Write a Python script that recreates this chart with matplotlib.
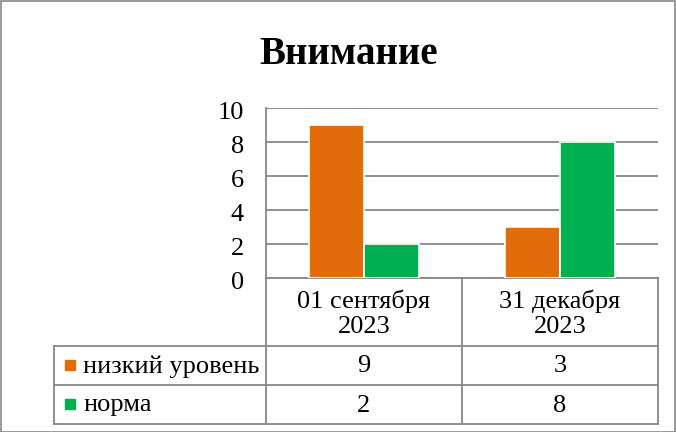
import matplotlib
matplotlib.use("Agg")
import matplotlib.pyplot as plt
import matplotlib.transforms as mtransforms
from matplotlib.patches import Rectangle
from matplotlib.lines import Line2D

categories = ["01 сентября\n2023", "31 декабря\n2023"]
series_names = ["низкий уровень", "норма"]
low_values = [9, 3]
norm_values = [2, 8]
colors = ["#E36C0A", "#00B050"]
yticks = [0, 2, 4, 6, 8, 10]
title = "Внимание"

plt.rcParams['font.family'] = ['Liberation Serif', 'DejaVu Serif']

W, H = 676, 432
fig = plt.figure(figsize=(W / 100, H / 100), dpi=100)

L, R, T, B = 266, 658, 108, 278
ax = fig.add_axes([L / W, 1 - B / H, (R - L) / W, (B - T) / H])

FS = 19

x = list(range(len(categories)))
bw = 0.28
ax.bar([xi - bw / 2 for xi in x], low_values, width=bw, color=colors[0],
       edgecolor="white", linewidth=1.2, zorder=3)
ax.bar([xi + bw / 2 for xi in x], norm_values, width=bw, color=colors[1],
       edgecolor="white", linewidth=1.2, zorder=3)

ax.set_xlim(-0.5, len(categories) - 0.5)
ax.set_ylim(0, 10)
ax.set_yticks(yticks)
ax.set_yticklabels([str(v) for v in yticks], fontsize=FS)
ax.tick_params(axis='y', length=0, pad=16)
ax.tick_params(axis='x', length=0, labelbottom=False)
off = mtransforms.ScaledTranslation(0, -2.5 / 100, fig.dpi_scale_trans)
for lbl in ax.get_yticklabels():
    lbl.set_transform(lbl.get_transform() + off)
ax.grid(axis='y', color="#888888", linewidth=1.3, zorder=0)
for s in ["top", "right", "bottom"]:
    ax.spines[s].set_visible(False)
ax.spines["left"].set_color("#888888")
ax.spines["left"].set_linewidth(1.3)

fig.text(349 / W, 1 - 55 / H, title, fontsize=28, fontweight="bold",
         ha="center", va="center")

tr = ax.transAxes
def ya(py):
    return (B - py) / (B - T)
def xa(px):
    return (px - L) / (R - L)

gc = "#888888"
lw = 1.3
row_y = [ya(278), ya(346), ya(385), ya(424)]
x_lab = xa(54)
col_x = [0, 0.5, 1.0]
ax.add_line(Line2D([0, 1], [row_y[0], row_y[0]], transform=tr, color=gc, lw=lw, clip_on=False))
for yv in row_y[1:]:
    ax.add_line(Line2D([x_lab, 1], [yv, yv], transform=tr, color=gc, lw=lw, clip_on=False))
for xv in col_x:
    ax.add_line(Line2D([xv, xv], [row_y[0], row_y[3]], transform=tr, color=gc, lw=lw, clip_on=False))
ax.add_line(Line2D([x_lab, x_lab], [row_y[1], row_y[3]], transform=tr, color=gc, lw=lw, clip_on=False))

for i, c in enumerate(categories):
    ax.text(0.25 + 0.5 * i, ya(313.5), c, transform=tr,
            ha="center", va="center", fontsize=FS, linespacing=1.16)

values = [low_values, norm_values]
row_centers_px = [365.5, 404.5]
for r, (name, vals, col) in enumerate(zip(series_names, values, colors)):
    cpx = row_centers_px[r]
    yc = ya(cpx + 1)
    ax.add_patch(Rectangle((xa(65), ya(cpx + 4.5)), xa(75) - xa(65), ya(cpx - 5.5) - ya(cpx + 4.5),
                           transform=tr, color=col, clip_on=False))
    ax.text(xa(83), yc, name, transform=tr, ha="left", va="center", fontsize=FS)
    for i, v in enumerate(vals):
        ax.text(0.25 + 0.5 * i, yc, str(v), transform=tr, ha="center",
                va="center", fontsize=FS)

fig.patches.append(Rectangle((0.5 / W, 0.5 / H), 1 - 1.5 / W, 1 - 1.5 / H,
                             transform=fig.transFigure, fill=False,
                             edgecolor="#888888", lw=1.2))

fig.savefig("out.png", dpi=100)
